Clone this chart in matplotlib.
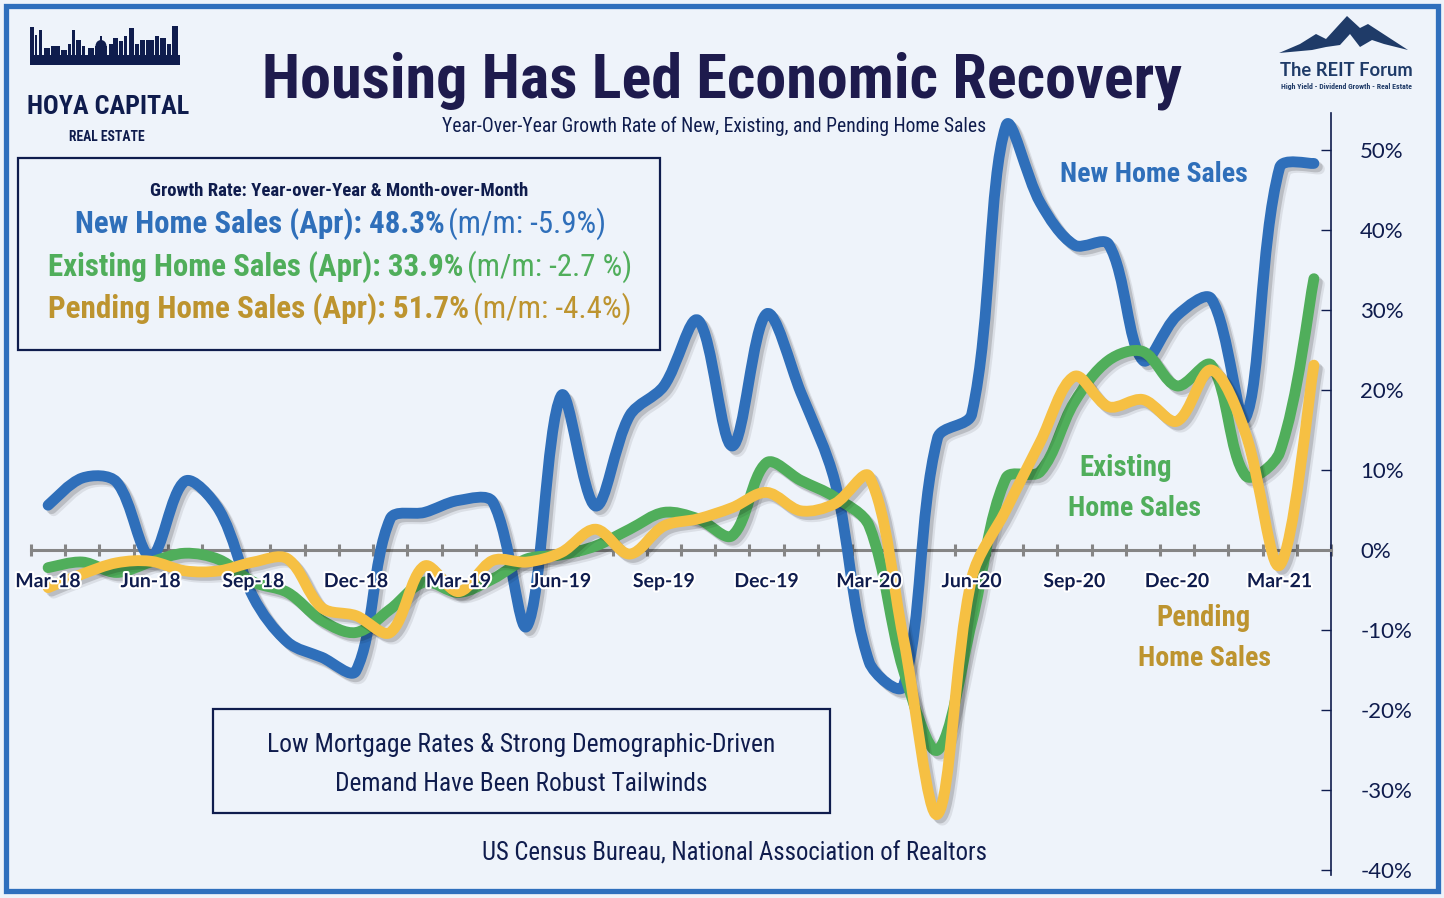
import matplotlib
matplotlib.use('Agg')
import matplotlib.pyplot as plt
import matplotlib.patheffects as pe
from matplotlib import font_manager as fm
from matplotlib.patches import PathPatch, Rectangle, Polygon, Ellipse
from matplotlib.path import Path
from matplotlib.ticker import FuncFormatter
import numpy as np

# quarterly labels under the zero line
tick_labels = ['Mar-18', 'Jun-18', 'Sep-18', 'Dec-18', 'Mar-19', 'Jun-19', 'Sep-19',
               'Dec-19', 'Mar-20', 'Jun-20', 'Sep-20', 'Dec-20', 'Mar-21']
# YoY growth (%), monthly Mar-18 .. Apr-21
new_home = [5.6, 9.0, 8.5, -0.8, 8.6, 5.0, -5.9, -11.5, -13.4, -15.1,
            3.9, 4.7, 6.2, 6.0, -9.5, 19.3, 5.5, 16.8, 20.5, 28.7,
            13.0, 29.5, 19.7, 8.5, -14.0, -17.0, 14.0, 17.0, 53.0, 43.4,
            38.1, 38.2, 23.7, 29.3, 31.4, 16.5, 47.8, 48.3]
existing_home = [-2.2, -1.5, -2.8, -1.5, -0.4, -1.2, -4.0, -5.3, -8.8, -10.3,
                 -7.4, -4.0, -5.3, -3.6, -1.1, -0.6, 0.5, 2.6, 4.7, 3.9,
                 1.8, 10.9, 8.7, 6.6, 3.0, -15.0, -25.0, -9.0, 9.0, 9.8,
                 18.5, 23.7, 24.8, 20.5, 23.1, 9.3, 12.2, 33.9]
pending_home = [-4.7, -3.0, -1.6, -1.4, -2.6, -2.6, -1.5, -1.1, -7.2, -8.2,
                -10.3, -2.0, -5.2, -1.3, -1.5, -0.3, 2.6, -0.5, 3.0, 3.9,
                5.3, 7.2, 4.9, 5.8, 9.2, -11.0, -33.0, -3.5, 5.0, 13.5,
                21.7, 17.9, 18.8, 16.1, 22.5, 14.6, -1.9, 23.1]

plt.rcParams['axes.unicode_minus'] = False


def pick(*names):
    for n in names:
        try:
            fm.findfont(fm.FontProperties(family=n), fallback_to_default=False)
            return n
        except ValueError:
            continue
    return 'DejaVu Sans'


NARROW = pick('Liberation Sans Narrow', 'Roboto Condensed', 'Open Sans Condensed', 'Roboto')
REG = pick('Lato', 'Open Sans', 'Noto Sans')

BG = '#eef3fa'
NAVY = '#1e1b4d'
LNAVY = '#0f1c4d'
FRAME = '#2f6fbd'
BLUE = '#2f6fba'
GREEN = '#50ae5b'
YELLOW = '#f6c043'
GOLD = '#bd942f'
GRAY = '#858585'

W, H = 1444, 898
fig = plt.figure(figsize=(W / 100, H / 100), dpi=100, facecolor=BG)
R = fig.canvas.get_renderer()


def fit(t, width):
    w = t.get_window_extent(R).width
    t.set_fontsize(t.get_fontsize() * width / w)
    return t


def ftext(x, y, s, color, width=None, size=14, weight='normal', family=NARROW, ha='center', va='baseline'):
    t = fig.text(x / W, 1 - y / H, s, color=color, fontsize=size, fontweight=weight,
                 family=family, ha=ha, va=va)
    if width:
        fit(t, width)
    return t


def two_part(cx, y, bold, rest, color, width, size=22):
    t1 = fig.text(0, 1 - y / H, bold, color=color, fontsize=size, fontweight='bold', family=NARROW)
    t2 = fig.text(0, 1 - y / H, rest, color=color, fontsize=size, family=NARROW)
    gap = 0.15 * size
    w1 = t1.get_window_extent(R).width
    w2 = t2.get_window_extent(R).width
    k = width / (w1 + w2 + gap)
    t1.set_fontsize(size * k)
    t2.set_fontsize(size * k)
    x0 = cx - width / 2
    t1.set_x(x0 / W)
    t2.set_x((x0 + (w1 + gap) * k) / W)


def rect_px(x0, y0, x1, y1, **kw):
    r = Rectangle((x0 / W, 1 - y1 / H), (x1 - x0) / W, (y1 - y0) / H, transform=fig.transFigure, **kw)
    fig.add_artist(r)
    return r


def smooth_path(vals, sx=34.2, sy=8.0):
    # spreadsheet-style smoothed line: bezier handles weighted by neighbouring segment lengths
    y = np.asarray(vals, float)
    p = np.column_stack([np.arange(len(y)) * sx, y * sy])
    n = len(p)
    d = np.hypot(*np.diff(p, axis=0).T)
    tan = np.empty_like(p)
    tan[0] = p[1] - p[0]
    tan[-1] = p[-1] - p[-2]
    tan[1:-1] = p[2:] - p[:-2]
    verts = [p[0]]
    codes = [Path.MOVETO]
    for i in range(n - 1):
        dl = d[i - 1] if i > 0 else d[i]
        dr = d[i + 1] if i < n - 2 else d[i]
        c1 = p[i] + tan[i] * d[i] / (dl + d[i]) / 3
        c2 = p[i + 1] - tan[i + 1] * d[i] / (d[i] + dr) / 3
        verts += [c1, c2, p[i + 1]]
        codes += [Path.CURVE4] * 3
    verts = np.array(verts) / [sx, sy]
    return Path(verts, codes)


# ---- chart area
ax = fig.add_axes([31 / W, 1 - 875 / H, 1300 / W, 762 / H])
ax.patch.set_visible(False)
ax.set_xlim(-0.5, 37.5)
ax.set_ylim(-40.6, 54.6)
ax.set_axisbelow(True)
ax.spines['top'].set_visible(False)
ax.spines['left'].set_visible(False)
ax.spines['bottom'].set_position(('data', 0))
ax.spines['bottom'].set_color(GRAY)
ax.spines['bottom'].set_linewidth(2.2)
ax.spines['right'].set_color(LNAVY)
ax.spines['right'].set_linewidth(1.2)

ax.yaxis.tick_right()
ax.set_yticks(range(-40, 51, 10))
ax.yaxis.set_major_formatter(FuncFormatter(lambda v, p: f'{v:.0f}%'))
ax.tick_params(axis='y', direction='in', length=7, width=1, color=LNAVY, pad=21,
               labelsize=16, labelcolor=LNAVY)
for lbl in ax.get_yticklabels():
    lbl.set_fontfamily(REG)

ax.set_xticks([])
ax.set_xticks(np.arange(-0.5, 38, 1), minor=True)
ax.tick_params(axis='x', which='minor', direction='inout', length=9, width=2.2, color=GRAY,
               labelbottom=False)

shadow = [pe.SimpleLineShadow(offset=(4, -4), shadow_color='black', alpha=0.08),
          pe.SimpleLineShadow(offset=(2.5, -2.5), shadow_color='black', alpha=0.15),
          pe.Normal()]
for vals, col, z in [(new_home, BLUE, 3), (existing_home, GREEN, 4), (pending_home, YELLOW, 5)]:
    ax.add_patch(PathPatch(smooth_path(vals), fill=False, edgecolor=col, lw=7.8,
                           capstyle='round', joinstyle='round', zorder=z, path_effects=shadow))

for i, lab in zip(range(0, 38, 3), tick_labels):
    t = ax.text(i, -3.95, lab, ha='center', va='center', fontsize=14, fontweight='bold',
                color=LNAVY, family=REG, zorder=6)
    t.set_path_effects([pe.withStroke(linewidth=3, foreground='white')])

# series labels
ftext(1154, 182, 'New Home Sales', BLUE, width=188, size=22, weight='bold')
ftext(1126, 476, 'Existing', GREEN, width=92, size=22, weight='bold')
ftext(1135, 516, 'Home Sales', GREEN, width=133, size=22, weight='bold')
ftext(1204, 626, 'Pending', GOLD, width=94, size=22, weight='bold')
ftext(1204, 666, 'Home Sales', GOLD, width=133, size=22, weight='bold')

# ---- titles
ftext(722, 97, 'Housing Has Led Economic Recovery', NAVY, width=920, size=44, weight='bold')
ftext(714, 132, 'Year-Over-Year Growth Rate of New, Existing, and Pending Home Sales', LNAVY,
      width=548, size=14)

# ---- stats box
rect_px(18, 158, 660, 350, fill=False, ec=LNAVY, lw=1.6)
ftext(339, 196, 'Growth Rate: Year-over-Year & Month-over-Month', LNAVY, width=378, size=13,
      weight='bold')
two_part(340, 233, 'New Home Sales (Apr): 48.3%', '(m/m: -5.9%)', BLUE, 530)
two_part(340, 276, 'Existing Home Sales (Apr): 33.9%', '(m/m: -2.7 %)', GREEN, 584)
two_part(340, 318, 'Pending Home Sales (Apr): 51.7%', '(m/m: -4.4%)', GOLD, 584)

# ---- comment box and source
rect_px(213, 709, 830, 813, fill=False, ec=LNAVY, lw=1.6)
ftext(521, 752, 'Low Mortgage Rates & Strong Demographic-Driven', LNAVY, width=507, size=18)
ftext(521, 791, 'Demand Have Been Robust Tailwinds', LNAVY, width=372, size=18)
ftext(735, 860, 'US Census Bureau, National Association of Realtors', LNAVY, width=506, size=18)

# ---- Hoya Capital logo (skyline + wordmark)
rect_px(30, 55, 180, 65, color=LNAVY, lw=0)
for x, w, top in [(30, 4, 27), (35, 2, 35), (39, 3, 30), (44, 6, 48), (51, 9, 46), (61, 6, 50),
                  (68, 3, 44), (72, 3, 30), (76, 5, 40), (82, 3, 46), (88, 6, 48), (95, 12, 46),
                  (100, 2, 36), (109, 4, 44), (113, 5, 38), (119, 4, 41), (124, 3, 36),
                  (129, 5, 28), (135, 4, 44), (140, 5, 40), (146, 8, 40), (155, 4, 36),
                  (160, 6, 38), (167, 4, 44), (172, 6, 26)]:
    rect_px(x, top, x + w, 56, color=LNAVY, lw=0)
fig.add_artist(Ellipse((101 / W, 1 - 46 / H), 11 / W, 12 / H, transform=fig.transFigure,
                       color=LNAVY, lw=0))
ftext(108, 114, 'HOYA CAPITAL', LNAVY, width=162, size=30, weight='bold')
ftext(107, 141, 'REAL ESTATE', LNAVY, width=76, size=14, weight='bold')

# ---- REIT Forum logo
mountain = [(1279, 53), (1300, 44), (1316, 34), (1326, 39), (1347, 16), (1360, 28), (1368, 24),
            (1408, 50), (1384, 44), (1372, 40), (1360, 47), (1350, 34), (1340, 45), (1326, 47),
            (1312, 50)]
fig.add_artist(Polygon([(x / W, 1 - y / H) for x, y in mountain], closed=True,
                       transform=fig.transFigure, color='#1f3b68', lw=0))
ftext(1346, 76, 'The REIT Forum', '#1f3b68', width=133, size=15, weight='bold', family=REG)
ftext(1346, 89, 'High Yield - Dividend Growth - Real Estate', '#1f3b68', width=131, size=5,
      weight='bold', family=NARROW)

# ---- outer frame
rect_px(6, 6, 1438, 891, fill=False, ec=FRAME, lw=3.8)

fig.savefig('out.png', dpi=100, facecolor=BG)
